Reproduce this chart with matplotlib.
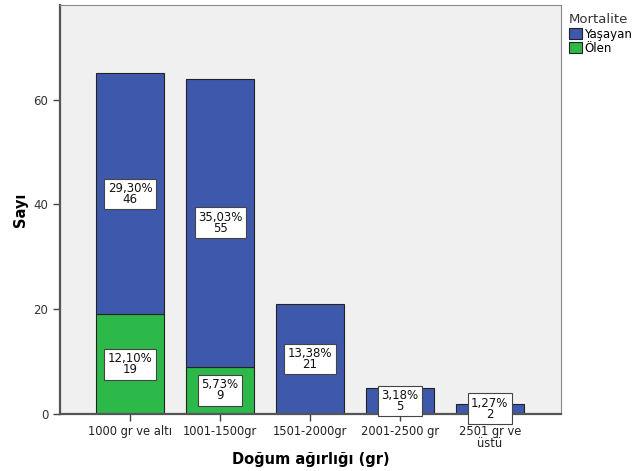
import numpy as np
import matplotlib
matplotlib.use("Agg")
import matplotlib.pyplot as plt

# veriler
kategoriler = ["1000 gr ve altı", "1001-1500gr", "1501-2000gr", "2001-2500 gr", "2501 gr ve\nüstü"]
olen = np.array([19, 9, 0, 0, 0])
yasayan = np.array([46, 55, 21, 5, 2])
toplam = (olen + yasayan).sum()

mavi = "#3e58ac"
yesil = "#2db84a"

plt.rcParams["font.family"] = ["DejaVu Sans"]

fig = plt.figure(figsize=(6.34, 4.71), dpi=100)
ax = fig.add_axes([0.0946, 0.121, 0.790, 0.868])
ax.set_facecolor("#f0f0f0")

x = np.arange(len(kategoriler))
w = 0.755
b1 = ax.bar(x, olen, w, color=yesil, edgecolor="#222222", linewidth=0.8, label="Ölen")
b2 = ax.bar(x, yasayan, w, bottom=olen, color=mavi, edgecolor="#222222", linewidth=0.8, label="Yaşayan")

# etiketler
def etiket(xi, deger, alt):
    if deger == 0:
        return
    yuzde = f"{deger / toplam * 100:.2f}".replace(".", ",") + "%"
    ax.text(xi, alt + deger / 2, f"{yuzde}\n{deger}", ha="center", va="center",
            fontsize=8.5, linespacing=0.8, color="#111111",
            bbox=dict(boxstyle="square,pad=0.28", fc="white", ec="#444444", lw=0.8))

for xi, o, y in zip(x, olen, yasayan):
    etiket(xi, o, 0)
    etiket(xi, y, o)

ax.set_xlim(-0.78, 4.79)
ax.set_ylim(0, 78)
ax.set_yticks([0, 20, 40, 60])
ax.set_xticks(x)
ax.set_xticklabels(kategoriler, fontsize=8.3, linespacing=0.85, color="#222222")
ax.tick_params(axis="y", labelsize=8.5, length=5, width=1, color="#444444", labelcolor="#333333")
ax.tick_params(axis="x", length=5, width=1, color="#444444", pad=3)

for s in ["left", "bottom"]:
    ax.spines[s].set_linewidth(1.6)
    ax.spines[s].set_color("#555555")
for s in ["top", "right"]:
    ax.spines[s].set_linewidth(0.8)
    ax.spines[s].set_color("#888888")

ax.set_xlabel("Doğum ağırlığı (gr)", fontsize=10.5, fontweight="bold")
ax.set_ylabel("Sayı", fontsize=10.5, fontweight="bold")
ax.xaxis.set_label_coords(0.5, -0.093)
ax.yaxis.set_label_coords(-0.063, 0.5)

leg = ax.legend(handles=[b2, b1], title="Mortalite", loc="upper left",
                bbox_to_anchor=(1.0, 1.0), frameon=False, fontsize=8.5,
                title_fontsize=9.5, handlelength=1.1, handleheight=1.0,
                handletextpad=0.2, borderaxespad=0.3, labelspacing=0.1)
leg._legend_box.align = "left"
leg.get_title().set_color("#333333")

fig.savefig("out.png", dpi=100)
